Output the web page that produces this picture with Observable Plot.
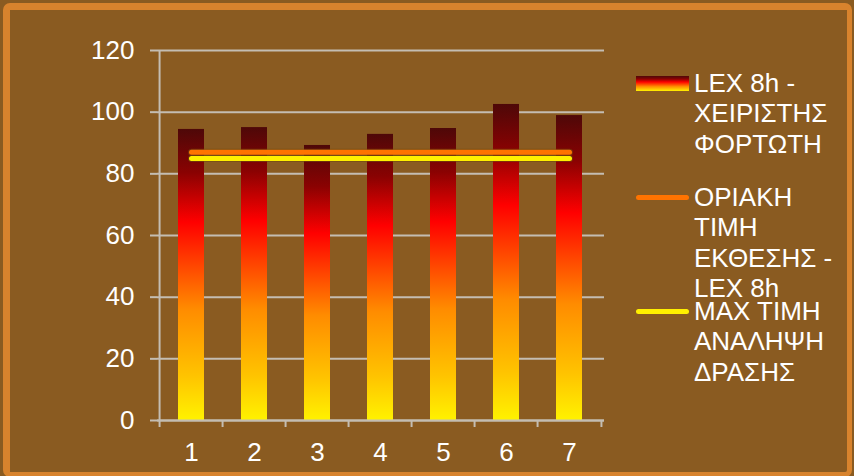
<!DOCTYPE html>
<html>
<head>
<meta charset="utf-8">
<script src="https://cdn.jsdelivr.net/npm/d3@7"></script>
<script src="https://cdn.jsdelivr.net/npm/@observablehq/plot@0.6"></script>
<style>
  html, body { margin: 0; padding: 0; background: #8A5B21; }
  #wrap { position: relative; width: 854px; height: 476px; overflow: hidden; background: #8A5B21;
          font-family: "Liberation Sans", Arial, sans-serif; color: #fff; }
  #frame { position: absolute; left: 3px; top: 3px; width: 837px; height: 462px;
           border-style: solid; border-color: #D8832D; border-width: 7px 5px 5px 7px; border-radius: 7px; }
  #chart { position: absolute; left: 0; top: 0; }
  .leg { position: absolute; left: 636px; }
  .leg .sw { position: absolute; left: 0; width: 53px; }
  .leg .txt { position: absolute; left: 58px; font-size: 26px; line-height: 30.5px; white-space: nowrap; color: #fff; }
</style>
</head>
<body>
<div id="wrap">
  <div id="frame"></div>
  <div id="chart"></div>
</div>
<script>
// ---- data ----
const categories = ["1", "2", "3", "4", "5", "6", "7"];
const lexValues = [94.4, 95.0, 89.2, 92.8, 94.7, 102.5, 98.9];
const limitValues = [87, 87, 87, 87, 87, 87, 87];
const actionValues = [85, 85, 85, 85, 85, 85, 85];
const yTicks = [0, 20, 40, 60, 80, 100, 120];
const seriesNames = ["LEX 8h - ΧΕΙΡΙΣΤΗΣ ΦΟΡΤΩΤΗ", "ΟΡΙΑΚΗ ΤΙΜΗ ΕΚΘΕΣΗΣ - LEX 8h", "ΜΑΧ ΤΙΜΗ ΑΝΑΛΗΨΗ ΔΡΑΣΗΣ"];
const legendLines = [["LEX 8h -", "ΧΕΙΡΙΣΤΗΣ", "ΦΟΡΤΩΤΗ"], ["ΟΡΙΑΚΗ", "ΤΙΜΗ", "ΕΚΘΕΣΗΣ -", "LEX 8h"], ["ΜΑΧ ΤΙΜΗ", "ΑΝΑΛΗΨΗ", "ΔΡΑΣΗΣ"]];

const bars = categories.map((c, i) => ({cat: c, v: lexValues[i]}));
const limit = categories.map((c, i) => ({cat: c, v: limitValues[i]}));
const action = categories.map((c, i) => ({cat: c, v: actionValues[i]}));

const W = 854, H = 476, mL = 157, mR = 250, mT = 50, mB = 56;
const step = (W - mL - mR) / categories.length;
const grid = "#C4BDB2";

const plot = Plot.plot({
  width: W, height: H,
  marginLeft: mL, marginRight: mR, marginTop: mT, marginBottom: mB,
  style: {background: "transparent", fontFamily: "'Liberation Sans', Arial, sans-serif", fontSize: "26px", overflow: "visible"},
  x: {type: "band", domain: categories, paddingInner: 0.58, paddingOuter: 0.29, label: null},
  y: {domain: [0, 120], label: null},
  marks: [
    Plot.gridY(yTicks, {stroke: grid, strokeOpacity: 1, strokeWidth: 2}),
    Plot.axisY(yTicks, {tickSize: 7, tickPadding: 16, stroke: grid, strokeWidth: 2, fill: "#fff", fontSize: 26, label: null}),
    Plot.barY(bars, {x: "cat", y: "v", fill: "url(#fireGrad)"}),
    Plot.ruleX([categories[0]], {x: d => d, y1: 0, y2: 120, dx: -step / 2, stroke: grid, strokeWidth: 2}),
    Plot.ruleY([0], {stroke: grid, strokeWidth: 2}),
    Plot.ruleX(categories, {x: d => d, y1: 0, y2: -7 / 3.0917, dx: -step / 2, stroke: grid, strokeWidth: 2}),
    Plot.ruleX([categories[categories.length - 1]], {x: d => d, y1: 0, y2: -7 / 3.0917, dx: step / 2, stroke: grid, strokeWidth: 2}),
    Plot.axisX({tickSize: 0, tickPadding: 22, fill: "#fff", fontSize: 26, label: null}),
    Plot.lineY(limit, {x: "cat", y: "v", stroke: "#6E4A10", strokeOpacity: 0.6, strokeWidth: 7, strokeLinecap: "round"}),
    Plot.lineY(limit, {x: "cat", y: "v", stroke: "#FF7300", strokeWidth: 5, strokeLinecap: "round"}),
    Plot.lineY(action, {x: "cat", y: "v", stroke: "#6E4A10", strokeOpacity: 0.6, strokeWidth: 7, strokeLinecap: "round"}),
    Plot.lineY(action, {x: "cat", y: "v", stroke: "#FFF000", strokeWidth: 5, strokeLinecap: "round"})
  ]
});

// gradient definition (per-bar bounding box)
const svg = d3.select(plot);
const defs = svg.insert("defs", ":first-child");
const g = defs.append("linearGradient").attr("id", "fireGrad").attr("x1", 0).attr("y1", 0).attr("x2", 0).attr("y2", 1);
[[0, "#4E0808"], [0.15, "#8A0202"], [0.32, "#FF0000"], [0.62, "#FF8C00"], [0.85, "#FFC400"], [1, "#FFF200"]]
  .forEach(([o, c]) => g.append("stop").attr("offset", o).attr("stop-color", c));
document.getElementById("chart").appendChild(plot);

// legend
const wrap = document.getElementById("wrap");
const legendTop = [83, 197, 311];
const swatches = [
  {h: 15, bg: "linear-gradient(to bottom, #4E0808 0%, #8A0202 20%, #FF0000 40%, #FF8C00 70%, #FFF200 100%)", r: 0},
  {h: 5, bg: "#FF7300", r: 3},
  {h: 5, bg: "#FFF000", r: 3}
];
legendLines.forEach((lines, i) => {
  const d = document.createElement("div");
  d.className = "leg";
  d.style.top = legendTop[i] + "px";
  d.title = seriesNames[i];
  const sw = document.createElement("div");
  sw.className = "sw";
  sw.style.height = swatches[i].h + "px";
  sw.style.top = (-swatches[i].h / 2) + "px";
  sw.style.background = swatches[i].bg;
  sw.style.borderRadius = swatches[i].r + "px";
  d.appendChild(sw);
  const t = document.createElement("div");
  t.className = "txt";
  t.style.top = (-30.5 / 2) + "px";
  t.innerHTML = lines.join("<br>");
  d.appendChild(t);
  wrap.appendChild(d);
});
</script>
</body>
</html>
